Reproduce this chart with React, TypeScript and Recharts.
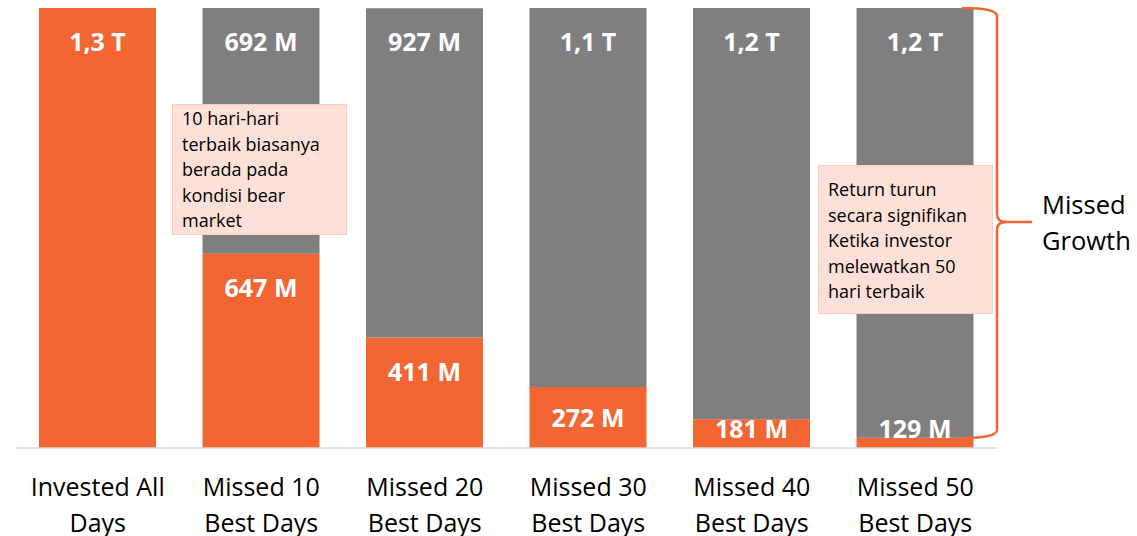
import React from "react";
import { BarChart, Bar, XAxis, YAxis, LabelList } from "recharts";

const categories = [
  "Invested All Days",
  "Missed 10 Best Days",
  "Missed 20 Best Days",
  "Missed 30 Best Days",
  "Missed 40 Best Days",
  "Missed 50 Best Days",
];
const tickLines = [
  ["Invested All", "Days"],
  ["Missed 10", "Best Days"],
  ["Missed 20", "Best Days"],
  ["Missed 30", "Best Days"],
  ["Missed 40", "Best Days"],
  ["Missed 50", "Best Days"],
];
// values in millions
const growth = [1339, 647, 411, 272, 181, 129];
const missed = [0, 692, 927, 1067, 1158, 1210];

const data = categories.map((name, i) => ({
  name,
  growth: growth[i],
  missed: missed[i],
}));

const ORANGE = "#F26633";
const GRAY = "#7F7F7F";
const FONT = "'Open Sans', sans-serif";
const BASELINE = 448;

function fmt(v: number) {
  if (!v) return "";
  if (v >= 1000) return (v / 1000).toFixed(1).replace(".", ",") + " T";
  return v + " M";
}

function BarLabel(props: any) {
  const { x, y, width, height, value } = props;
  if (!value) return null;
  let cy = y + 33;
  if (height < 66) cy = Math.min(y + height / 2, BASELINE - 20);
  return (
    <text
      x={x + width / 2}
      y={cy}
      textAnchor="middle"
      dominantBaseline="central"
      fill="#fff"
      fontFamily={FONT}
      fontWeight={700}
      fontSize={25}
    >
      {fmt(value)}
    </text>
  );
}

function Tick(props: any) {
  const { x, y, index } = props;
  const lines = tickLines[index] || [];
  return (
    <g>
      {lines.map((l, i) => (
        <text
          key={i}
          x={x}
          y={y + 30 + i * 36}
          textAnchor="middle"
          dominantBaseline="central"
          fill="#000"
          fontFamily={FONT}
          fontSize={25}
        >
          {l}
        </text>
      ))}
    </g>
  );
}

const calloutStyle: React.CSSProperties = {
  position: "absolute",
  background: "#FDE0D7",
  border: "1px dotted #F5B9A6",
  boxSizing: "border-box",
  fontFamily: FONT,
  fontSize: 18,
  lineHeight: "25.5px",
  color: "#000",
  whiteSpace: "nowrap",
};

export default function App() {
  return (
    <div style={{ position: "absolute", left: 0, top: 0, width: 1137, height: 536, background: "#fff" }}>
      <BarChart
        width={1137}
        height={536}
        data={data}
        margin={{ top: 8, right: 140, bottom: 0, left: 16 }}
      >
        <XAxis
          dataKey="name"
          height={88}
          tickLine={false}
          axisLine={{ stroke: "#D9D9D9", strokeWidth: 1.5 }}
          tick={<Tick />}
          interval={0}
        />
        <YAxis hide domain={[100, 1339]} allowDataOverflow />
        <Bar dataKey="growth" stackId="a" fill={ORANGE} barSize={117} isAnimationActive={false}>
          <LabelList dataKey="growth" content={<BarLabel />} />
        </Bar>
        <Bar dataKey="missed" stackId="a" fill={GRAY} barSize={117} isAnimationActive={false}>
          <LabelList dataKey="missed" content={<BarLabel />} />
        </Bar>
      </BarChart>

      <div style={{ ...calloutStyle, left: 172, top: 104, width: 175, height: 131, padding: "1px 0 0 9px" }}>
        10 hari-hari
        <br />
        terbaik biasanya
        <br />
        berada pada
        <br />
        kondisi bear
        <br />
        market
      </div>

      <div style={{ ...calloutStyle, left: 818, top: 165, width: 175, height: 149, padding: "11px 0 0 9px" }}>
        Return turun
        <br />
        secara signifikan
        <br />
        Ketika investor
        <br />
        melewatkan 50
        <br />
        hari terbaik
      </div>

      <svg
        width={1137}
        height={536}
        style={{ position: "absolute", left: 0, top: 0, pointerEvents: "none" }}
      >
        <path
          d="M 962 8 Q 997 8 997 16 L 997 214 Q 997 222 1006 222 L 1032 222 M 1006 222 Q 997 222 997 230 L 997 430 Q 997 438 962 438"
          fill="none"
          stroke={ORANGE}
          strokeWidth={2.5}
        />
        <text x={1042} y={204} dominantBaseline="central" fontFamily={FONT} fontSize={25.5} fill="#000">
          Missed
        </text>
        <text x={1042} y={240} dominantBaseline="central" fontFamily={FONT} fontSize={25.5} fill="#000">
          Growth
        </text>
      </svg>
    </div>
  );
}
